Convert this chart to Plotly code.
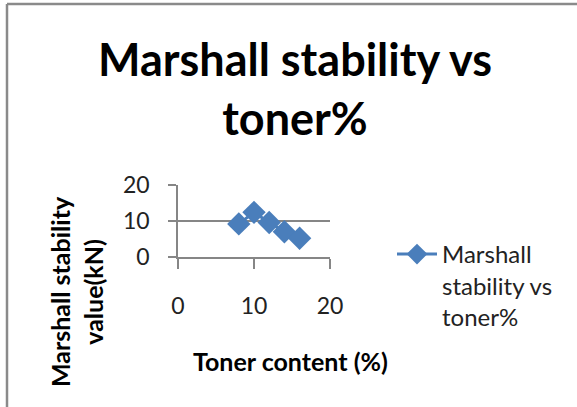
import plotly.graph_objects as go

toner_content = [8, 10, 12, 14, 16]
marshall_stability = [9.2, 12.4, 9.6, 7.0, 5.2]
x_ticks = [0, 10, 20]
y_ticks = [0, 10, 20]
series_name = "Marshall<br>stability vs<br>toner%"
title_text = "Marshall stability vs<br>toner%"
x_title = "Toner content (%)"
y_title = "Marshall stability<br>value(kN)"

FONT = "Lato"
W, H = 577, 407
L, R, T, B = 178, 330, 185, 257  # plot area pixel bounds
pw, ph = R - L, B - T

def px(xp):
    return (xp - L) / pw

def py(yp):
    return (B - yp) / ph

fig = go.Figure()
fig.add_trace(go.Scatter(
    x=toner_content, y=marshall_stability, mode="lines+markers",
    name=series_name,
    line=dict(color="#4a7ebb", width=3),
    marker=dict(symbol="diamond", size=18, color="#4a7ebb"),
))

fig.update_layout(
    width=W, height=H,
    margin=dict(l=L, r=W - R, t=T, b=H - B, autoexpand=False),
    paper_bgcolor="white", plot_bgcolor="white",
    font=dict(family=FONT, color="#222222", size=23),
    showlegend=True,
    legend=dict(xref="container", yref="container",
                x=392 / W, y=1 - 232 / H, xanchor="left", yanchor="top", valign="top",
                font=dict(family=FONT, size=24, color="#222222"),
                bgcolor="rgba(0,0,0,0)", itemwidth=40, tracegroupgap=0),
)
fig.update_xaxes(range=[0, 20], tickvals=x_ticks, showgrid=False, zeroline=False,
                 showline=True, linecolor="#868686", linewidth=1.5,
                 ticks="outside", ticklen=10, tickcolor="#868686", tickwidth=1.5,
                 ticklabelstandoff=18, tickfont=dict(size=23, color="#222222"),
                 fixedrange=True)
fig.update_yaxes(range=[0, 20], tickvals=y_ticks, showgrid=True, gridcolor="#868686", gridwidth=1.5,
                 zeroline=False, showline=True, linecolor="#868686", linewidth=1.5,
                 ticks="outside", ticklen=8, tickcolor="#868686", tickwidth=1.5,
                 ticklabelstandoff=14, tickfont=dict(size=23, color="#222222"),
                 fixedrange=True)

# chart title
fig.add_annotation(text="<b>" + title_text + "</b>", xref="paper", yref="paper",
                   x=px(295), y=py(89), showarrow=False, xanchor="center", yanchor="middle",
                   font=dict(family=FONT, size=45, color="black"))
# axis titles
fig.add_annotation(text="<b>" + x_title + "</b>", xref="paper", yref="paper",
                   x=px(290), y=py(361), showarrow=False, xanchor="center", yanchor="middle",
                   font=dict(family=FONT, size=25, color="black"))
fig.add_annotation(text="<b>" + y_title + "</b>", xref="paper", yref="paper",
                   x=px(76), y=py(292), showarrow=False, textangle=-90,
                   xanchor="center", yanchor="middle",
                   font=dict(family=FONT, size=25, color="black"))

# chart border (top and left edges visible)
fig.add_shape(type="line", xref="paper", yref="paper", x0=px(7), x1=px(580), y0=py(4), y1=py(4),
              line=dict(color="#8a8a8a", width=2.5))
fig.add_shape(type="line", xref="paper", yref="paper", x0=px(7), x1=px(7), y0=py(4), y1=py(410),
              line=dict(color="#8a8a8a", width=2.5))

fig.write_html("out.html", config={"displayModeBar": False},
               post_script="document.body.style.margin='0';")
